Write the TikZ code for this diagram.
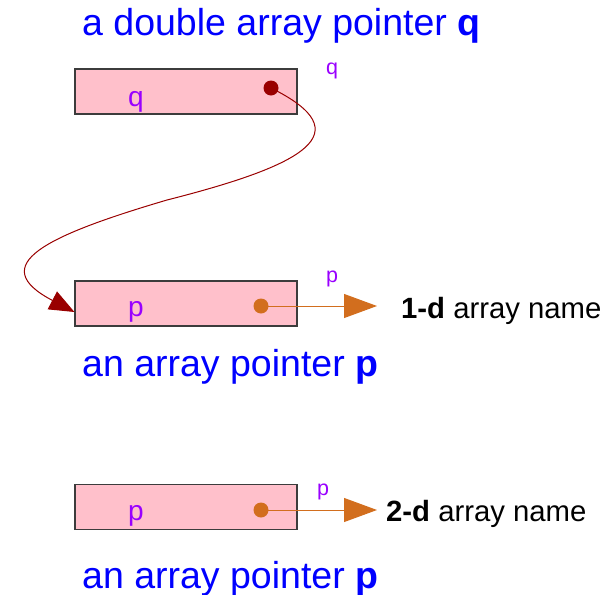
\documentclass[tikz,border=0pt]{standalone}
\usepackage{fontspec}
\setmainfont{Liberation Sans}
\usetikzlibrary{arrows.meta}
\definecolor{cellpink}{RGB}{255,192,203}
\definecolor{celledge}{RGB}{60,60,60}
\definecolor{ptrred}{RGB}{153,0,0}
\definecolor{ptrorange}{RGB}{210,110,30}
\definecolor{labelviolet}{RGB}{153,0,255}
\definecolor{titleblue}{RGB}{0,0,255}
\tikzset{
  cell/.style={draw=celledge, line width=1.1pt, fill=cellpink, minimum width=222pt, minimum height=45pt, inner sep=0pt},
  dotq/.style={circle, fill=ptrred, minimum size=15pt, inner sep=0pt},
  dotp/.style={circle, fill=ptrorange, minimum size=15pt, inner sep=0pt},
  inlabel/.style={text=labelviolet, font=\fontsize{28}{32}\selectfont, inner sep=0pt},
  outlabel/.style={text=labelviolet, font=\fontsize{21.5}{25}\selectfont, inner sep=0pt},
  caption/.style={text=titleblue, font=\fontsize{37.5}{44}\selectfont, anchor=base west, inner sep=0pt},
  target/.style={text=black, font=\fontsize{29.3}{34}\selectfont, anchor=base west, inner sep=0pt},
  qlink/.style={draw=ptrred, line width=1pt, -{Triangle[length=25pt,width=20pt]}},
  plink/.style={draw=ptrorange, line width=1pt, -{Triangle[length=33pt,width=24pt]}}
}
\begin{document}
\begin{tikzpicture}[x=1pt, y=-1pt]
\useasboundingbox (0,0) rectangle (606,595);

% double pointer q
\node[caption] (qtitle) at (82,35) {a double array pointer \textbf{q}};
\node[cell] (qbox) at (186,91.5) {};
\node[inlabel, anchor=base] (qin) at (136,106) {q};
\node[outlabel, anchor=base] (qout) at (332,74) {q};
\node[dotq] (qdot) at (271,88) {};

% array pointer p (1-d)
\node[cell] (pbox) at (186,303.5) {};
\node[inlabel, anchor=base] (pin) at (136,316) {p};
\node[outlabel, anchor=base] (pout) at (332,282) {p};
\node[dotp] (pdot) at (261,306) {};
\coordinate (ptip) at (377,306);
\node[target] (pname) at (401,318) {\textbf{1-d} array name};
\node[caption] (ptitle) at (82,376) {an array pointer \textbf{p}};

% array pointer p (2-d)
\node[cell] (rbox) at (186,507) {};
\node[inlabel, anchor=base] (rin) at (136,520) {p};
\node[outlabel, anchor=base] (rout) at (323,495) {p};
\node[dotp] (rdot) at (261,510) {};
\coordinate (rtip) at (377,510);
\node[target] (rname) at (386,521) {\textbf{2-d} array name};
\node[caption] (rtitle) at (82,588) {an array pointer \textbf{p}};

% connectors
\draw[qlink] (qdot.center) .. controls (362,133) and (305,165) .. (167,200)
  .. controls (45,236) and (-15,265) .. (pbox.west |- 0,312);
\draw[plink] (pdot.center) -- (ptip);
\draw[plink] (rdot.center) -- (rtip);
\end{tikzpicture}
\end{document}
